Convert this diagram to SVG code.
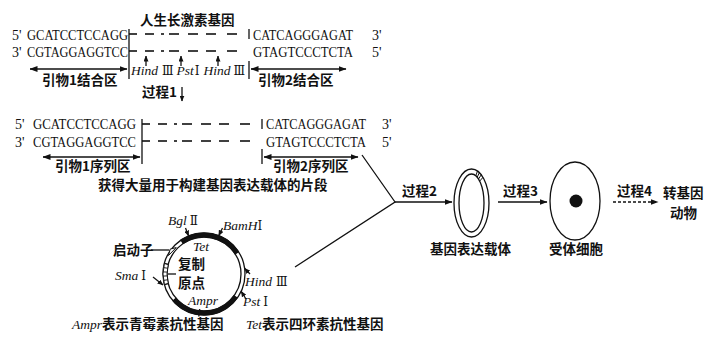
<svg xmlns="http://www.w3.org/2000/svg" width="713" height="339" viewBox="0 0 713 339">
  <defs>
    <marker id="ah" viewBox="0 0 8 6" refX="7.5" refY="3" markerWidth="8" markerHeight="6" markerUnits="userSpaceOnUse" orient="auto-start-reverse">
      <path d="M0,0 L8,3 L0,6 Z" fill="#111"/>
    </marker>
    <marker id="ahs" viewBox="0 0 6 5" refX="5.5" refY="2.5" markerWidth="6" markerHeight="5" markerUnits="userSpaceOnUse" orient="auto">
      <path d="M0,0 L6,2.5 L0,5 Z" fill="#111"/>
    </marker>
  </defs>
  <style>
    .ln { stroke: #111; stroke-width: 1.3; fill: none; }
    .seq { font-family: "Liberation Serif", "Times New Roman", serif; font-size: 14px; fill: #111; }
    .cn { font-family: "Noto Sans CJK SC", "Noto Sans", sans-serif; font-weight: bold; font-size: 13.5px; fill: #111; }
    .it { font-family: "Liberation Serif", "Times New Roman", serif; font-style: italic; font-size: 13.5px; fill: #111; }
    .rn { font-family: "Liberation Serif", "DejaVu Serif", "Noto Sans CJK SC", serif; font-style: normal; font-size: 12px; fill: #111; }
    .dash { stroke: #111; stroke-width: 1.6; }
    .ring { stroke: #111; stroke-width: 1.3; fill: none; }
    .band { stroke: #111; stroke-width: 5; fill: none; }
  </style>
  <rect width="713" height="339" fill="#fff"/>

  <!-- gene with primer binding regions -->
  <g id="gene-template">
    <text class="cn" x="140" y="25">人生长激素基因</text>
    <text class="seq" x="12" y="40">5'</text>
    <text class="seq" x="27" y="40" textLength="101" lengthAdjust="spacingAndGlyphs">GCATCCTCCAGG</text>
    <text class="seq" x="12" y="57">3'</text>
    <text class="seq" x="27" y="57" textLength="101" lengthAdjust="spacingAndGlyphs">CGTAGGAGGTCC</text>
    <line class="ln" x1="129" y1="29" x2="129" y2="79"/>
    <g class="dash">
      <line x1="129" y1="34" x2="137" y2="34"/><line x1="145" y1="34" x2="154" y2="34"/><line x1="161" y1="34" x2="164" y2="34"/>
      <line x1="169" y1="34" x2="179" y2="34"/><line x1="188" y1="34" x2="198" y2="34"/><line x1="206" y1="34" x2="216" y2="34"/>
      <line x1="227" y1="34" x2="237" y2="34"/>
      <line x1="129" y1="51" x2="137" y2="51"/><line x1="145" y1="51" x2="154" y2="51"/><line x1="161" y1="51" x2="164" y2="51"/>
      <line x1="169" y1="51" x2="179" y2="51"/><line x1="188" y1="51" x2="198" y2="51"/><line x1="206" y1="51" x2="216" y2="51"/>
      <line x1="227" y1="51" x2="237" y2="51"/>
    </g>
    <line class="ln" x1="249" y1="29" x2="249" y2="39"/>
    <line class="ln" x1="249" y1="61" x2="249" y2="79"/>
    <text class="seq" x="253" y="40" textLength="100" lengthAdjust="spacingAndGlyphs">CATCAGGGAGAT</text>
    <text class="seq" x="372" y="40">3'</text>
    <text class="seq" x="253" y="57" textLength="100" lengthAdjust="spacingAndGlyphs">GTAGTCCCTCTA</text>
    <text class="seq" x="372" y="57">5'</text>
    <text x="131" y="75"><tspan class="it">Hind</tspan><tspan class="rn" dx="4">Ⅲ</tspan><tspan class="it" dx="3">Pst</tspan><tspan class="rn" dx="1">Ⅰ</tspan><tspan class="it" dx="4">Hind</tspan><tspan class="rn" dx="3">Ⅲ</tspan></text>
    <text class="cn" x="42" y="85">引物1结合区</text>
    <text class="cn" x="258" y="85">引物2结合区</text>
    <text class="cn" x="142" y="97">过程1</text>
  </g>

  <!-- amplified fragment -->
  <g id="amplified-fragment">
    <text class="seq" x="15" y="129">5'</text>
    <text class="seq" x="33" y="129" textLength="103" lengthAdjust="spacingAndGlyphs">GCATCCTCCAGG</text>
    <text class="seq" x="15" y="147">3'</text>
    <text class="seq" x="33" y="147" textLength="103" lengthAdjust="spacingAndGlyphs">CGTAGGAGGTCC</text>
    <line class="ln" x1="142" y1="119" x2="142" y2="164"/>
    <g class="dash">
      <line x1="142" y1="124" x2="150" y2="124"/><line x1="158" y1="124" x2="167" y2="124"/><line x1="174" y1="124" x2="177" y2="124"/>
      <line x1="182" y1="124" x2="192" y2="124"/><line x1="201" y1="124" x2="211" y2="124"/><line x1="219" y1="124" x2="229" y2="124"/>
      <line x1="240" y1="124" x2="250" y2="124"/>
      <line x1="142" y1="141" x2="150" y2="141"/><line x1="158" y1="141" x2="167" y2="141"/><line x1="174" y1="141" x2="177" y2="141"/>
      <line x1="182" y1="141" x2="192" y2="141"/><line x1="201" y1="141" x2="211" y2="141"/><line x1="219" y1="141" x2="229" y2="141"/>
      <line x1="240" y1="141" x2="250" y2="141"/>
    </g>
    <line class="ln" x1="262" y1="119" x2="262" y2="129"/>
    <line class="ln" x1="262" y1="149" x2="262" y2="164"/>
    <text class="seq" x="266" y="129" textLength="100" lengthAdjust="spacingAndGlyphs">CATCAGGGAGAT</text>
    <text class="seq" x="382" y="129">3'</text>
    <text class="seq" x="266" y="147" textLength="100" lengthAdjust="spacingAndGlyphs">GTAGTCCCTCTA</text>
    <text class="seq" x="382" y="147">5'</text>
    <text class="cn" x="55" y="171" font-size="13">引物1序列区</text>
    <text class="cn" x="273" y="171" font-size="13">引物2序列区</text>
    <text class="cn" x="98" y="190" font-size="14">获得大量用于构建基因表达载体的片段</text>
  </g>

  <!-- plasmid -->
  <g id="plasmid">
    <circle class="ring" cx="204" cy="274" r="41"/>
    <circle class="ring" cx="204" cy="274" r="37"/>
    <path class="band" d="M181.6,242.1 A39,39 0 0 1 237.1,253.3"/>
    <path class="band" d="M235.9,296.4 A39,39 0 0 1 174.1,299.1"/>
    <!-- origin of replication block -->
    <path d="M164.4,284.6 A41,41 0 0 1 164.4,263.4 L168.3,264.4 A37,37 0 0 0 168.3,283.6 Z" fill="#fff" stroke="#111" stroke-width="1"/>
    <g stroke="#111" stroke-width="0.9">
      <line x1="168.3" y1="283.6" x2="164.4" y2="284.6"/>
      <line x1="167.5" y1="279.8" x2="163.5" y2="280.4"/>
      <line x1="167.1" y1="275.9" x2="163.1" y2="276.1"/>
      <line x1="167.1" y1="272.1" x2="163.1" y2="271.9"/>
      <line x1="167.5" y1="268.2" x2="163.5" y2="267.6"/>
      <line x1="168.3" y1="264.4" x2="164.4" y2="263.4"/>
    </g>
    <!-- promoter -->
    <polygon points="168.5,255.5 176.2,247.6 170.2,249.1" fill="#fff" stroke="#111" stroke-width="1"/>
    <line class="ln" x1="198.8" y1="316.5" x2="199.7" y2="309"/>
    <text class="it" x="193" y="251">Tet</text>
    <text class="it" x="188" y="304.5">Ampr</text>
    <text class="cn" x="178" y="269" font-size="12.5">复制</text>
    <text class="cn" x="178" y="288" font-size="12.5">原点</text>
    <text class="cn" x="113" y="255">启动子</text>
    <text x="168" y="225"><tspan class="it">Bgl</tspan><tspan class="rn" dx="3">Ⅱ</tspan></text>
    <text x="223" y="230"><tspan class="it">BamH</tspan><tspan class="rn">Ⅰ</tspan></text>
    <text x="115" y="280"><tspan class="it">Sma</tspan><tspan class="rn" dx="3">Ⅰ</tspan></text>
    <text x="245" y="286"><tspan class="it">Hind</tspan><tspan class="rn" dx="4">Ⅲ</tspan></text>
    <text x="243" y="306"><tspan class="it">Pst</tspan><tspan class="rn" dx="3">Ⅰ</tspan></text>
  </g>

  <!-- expression vector -->
  <g id="expression-vector">
    <ellipse cx="471.5" cy="203" rx="17.5" ry="34" class="ring" stroke-width="1.5"/>
    <ellipse cx="471.5" cy="203" rx="12.5" ry="29" class="ring" stroke-width="1.5"/>
    <g stroke="#111" stroke-width="1">
      <line x1="477.5" y1="171" x2="475.8" y2="175.7"/>
      <line x1="479.4" y1="172.6" x2="477.2" y2="177.2"/>
      <line x1="481.3" y1="174.7" x2="478.5" y2="179"/>
      <line x1="483" y1="177.3" x2="479.7" y2="181.1"/>
    </g>
    <text class="cn" x="430" y="254">基因表达载体</text>
  </g>

  <!-- recipient cell -->
  <g id="recipient-cell">
    <ellipse cx="575" cy="201" rx="25" ry="39" class="ring" stroke-width="1.5"/>
    <circle cx="576" cy="201" r="6.5" fill="#111"/>
    <text class="cn" x="549" y="254">受体细胞</text>
  </g>

  <!-- transgenic animal -->
  <g id="transgenic-animal">
    <text class="cn" x="663" y="198">转基因</text>
    <text class="cn" x="670" y="218">动物</text>
  </g>

  <!-- connectors -->
  <g id="connectors">
    <line class="ln" x1="146" y1="66" x2="146" y2="56" marker-end="url(#ahs)"/>
    <line class="ln" x1="181" y1="66" x2="181" y2="56" marker-end="url(#ahs)"/>
    <line class="ln" x1="218" y1="66" x2="218" y2="56" marker-end="url(#ahs)"/>
    <line class="ln" x1="30" y1="69" x2="127" y2="69" marker-start="url(#ah)" marker-end="url(#ah)"/>
    <line class="ln" x1="251" y1="69" x2="346" y2="69" marker-start="url(#ah)" marker-end="url(#ah)"/>
    <line class="ln" x1="182" y1="87" x2="182" y2="101" marker-end="url(#ahs)"/>
    <line class="ln" x1="43" y1="157" x2="140" y2="157" marker-start="url(#ah)" marker-end="url(#ah)"/>
    <line class="ln" x1="264" y1="157" x2="358" y2="157" marker-start="url(#ah)" marker-end="url(#ah)"/>
    <polyline class="ln" points="362,155 395,202 295,267"/>
    <line class="ln" x1="395" y1="202" x2="452" y2="202" marker-end="url(#ah)"/>
    <text class="cn" x="402" y="196">过程2</text>
    <line class="ln" x1="498" y1="202" x2="547" y2="202" marker-end="url(#ah)"/>
    <text class="cn" x="503" y="196">过程3</text>
    <line class="ln" x1="613" y1="202" x2="658" y2="202" stroke-dasharray="3,2" marker-end="url(#ah)"/>
    <text class="cn" x="617" y="196">过程4</text>
    <!-- restriction sites on the plasmid -->
    <line class="ln" x1="185.5" y1="228" x2="188.6" y2="236" marker-end="url(#ahs)"/>
    <line class="ln" x1="222.5" y1="228" x2="218.7" y2="235.7" marker-end="url(#ahs)"/>
    <line class="ln" x1="250" y1="274" x2="244.6" y2="268.3" marker-end="url(#ahs)"/>
    <line class="ln" x1="246" y1="299" x2="241.2" y2="291.3" marker-end="url(#ahs)"/>
    <line class="ln" x1="153" y1="277" x2="163" y2="285" marker-end="url(#ahs)"/>
    <line class="ln" x1="151" y1="250" x2="169" y2="250"/>
    <line class="ln" x1="168" y1="274" x2="176" y2="274"/>
  </g>

  <!-- legend -->
  <g id="legend">
    <text x="72" y="329"><tspan class="it" font-size="14">Ampr</tspan><tspan class="cn" font-size="14">表示青霉素抗性基因</tspan></text>
    <text x="246" y="329"><tspan class="it" font-size="14">Tet</tspan><tspan class="cn" font-size="14">表示四环素抗性基因</tspan></text>
  </g>
</svg>
